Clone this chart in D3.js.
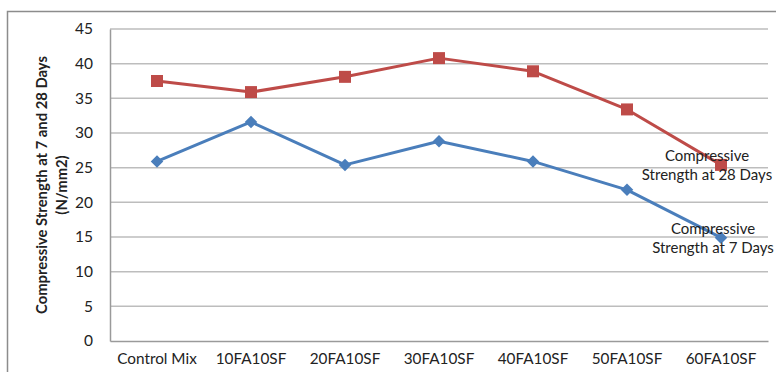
<!DOCTYPE html>
<html>
<head>
<meta charset="utf-8">
<script src="https://cdn.jsdelivr.net/npm/d3@7"></script>
<style>
  html, body { margin: 0; padding: 0; background: #fff; }
  svg { display: block; overflow: hidden; }
  text { font-family: Lato, "Open Sans", "Liberation Sans", sans-serif; fill: #222; }
</style>
</head>
<body>
<svg id="chart" width="776" height="372"></svg>
<script>
// Mix designs along the x axis
const categories = ["Control Mix", "10FA10SF", "20FA10SF", "30FA10SF", "40FA10SF", "50FA10SF", "60FA10SF"];
// Compressive strength (N/mm2)
const strength7 = [25.9, 31.6, 25.4, 28.8, 25.9, 21.8, 14.9];
const strength28 = [37.5, 35.9, 38.1, 40.8, 38.9, 33.4, 25.4];
const yTicks = [0, 5, 10, 15, 20, 25, 30, 35, 40, 45];
const seriesNames = ["Compressive Strength at 7 Days", "Compressive Strength at 28 Days"];

const svg = d3.select("#chart");
const margin = { left: 110, right: 8, top: 29, bottom: 31 };
const W = 776, H = 372;

// outer chart frame
svg.append("rect")
  .attr("x", 7.5).attr("y", 11.5)
  .attr("width", 800).attr("height", 400)
  .attr("fill", "#fff").attr("stroke", "#8c8c8c").attr("stroke-width", 1.5);

const x = d3.scaleBand().domain(categories).range([margin.left, W - margin.right]);
const y = d3.scaleLinear().domain([0, 45]).range([H - margin.bottom, margin.top]);

// horizontal gridlines
svg.append("g").selectAll("line").data(yTicks.filter(d => d > 0)).join("line")
  .attr("x1", margin.left).attr("x2", W - margin.right)
  .attr("y1", d => y(d)).attr("y2", d => y(d))
  .attr("stroke", "#bdbdbd").attr("stroke-width", 1.5);

// y axis
const yAxis = svg.append("g").attr("transform", `translate(${margin.left},0)`)
  .call(d3.axisLeft(y).tickValues(yTicks).tickSize(0).tickPadding(17));
yAxis.select(".domain").attr("stroke", "#9a9a9a").attr("stroke-width", 1.5);
yAxis.selectAll("text").attr("font-size", 15.5).attr("fill", "#222")
  .style("font-family", "Lato, 'Open Sans', sans-serif");

// x axis
const xAxis = svg.append("g").attr("transform", `translate(0,${y(0)})`)
  .call(d3.axisBottom(x).tickSize(0).tickPadding(12));
xAxis.select(".domain").attr("stroke", "#9a9a9a").attr("stroke-width", 1.5);
xAxis.selectAll("text").attr("font-size", 15.3).attr("fill", "#222")
  .style("font-family", "Lato, 'Open Sans', sans-serif");

// y axis title
const yt = svg.append("text")
  .attr("transform", "translate(47,185) rotate(-90)")
  .attr("text-anchor", "middle").attr("font-size", 14.8).attr("font-weight", "bold");
yt.append("tspan").attr("x", 0).attr("dy", 0).text("Compressive Strength at 7 and 28 Days");
yt.append("tspan").attr("x", 0).attr("dy", 20).text("(N/mm2)");

const cx = d => x(d) + x.bandwidth() / 2;
const line = d3.line().x(d => cx(d[0])).y(d => y(d[1]));

function drawSeries(values, color, marker) {
  const pts = categories.map((c, i) => [c, values[i]]);
  svg.append("path").datum(pts)
    .attr("d", line).attr("fill", "none")
    .attr("stroke", color).attr("stroke-width", 3).attr("stroke-linejoin", "round");
  svg.append("g").selectAll("path").data(pts).join("path")
    .attr("transform", d => `translate(${cx(d[0])},${y(d[1])})`)
    .attr("d", marker)
    .attr("fill", color);
}

const diamond = d3.symbol().type(d3.symbolDiamond2).size(100)();
const square = "M-6,-6H6V6H-6Z";

drawSeries(strength7, "#4a7ebb", diamond);
drawSeries(strength28, "#be4b48", square);

// series name labels at the last point
function endLabel(values, name, dx, dy) {
  const last = categories[categories.length - 1];
  const words = name.split(" ");
  const t = svg.append("text")
    .attr("text-anchor", "middle").attr("font-size", 15)
    .attr("transform", `translate(${cx(last) + dx},${y(values[values.length - 1]) + dy})`);
  t.append("tspan").attr("x", 0).attr("dy", 0).text(words[0]);
  t.append("tspan").attr("x", 0).attr("dy", 19).text(words.slice(1).join(" "));
}
endLabel(strength28, seriesNames[1], -14, -4);
endLabel(strength7, seriesNames[0], -8, -4);
</script>
</body>
</html>
